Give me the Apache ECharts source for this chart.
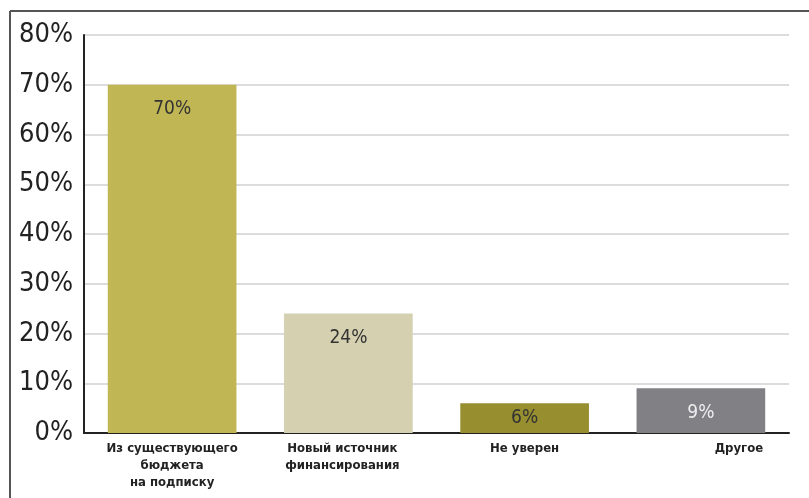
<!DOCTYPE html>
<html><head><meta charset="utf-8">
<script src="https://cdn.jsdelivr.net/npm/echarts@6/dist/echarts.min.js"></script>
<style>html,body{margin:0;padding:0;background:#fff}#c{width:809px;height:498px}</style>
</head><body><div id="c"></div>
<script>
const categories = ['Из существующего\nбюджета\nна подписку', 'Новый источник\nфинансирования', 'Не уверен', 'Другое'];
const values = [70, 24, 6, 9];
const barColors = ['#c0b754', '#d4d0b0', '#978e30', '#818185'];
const labelColors = ['#333333', '#333333', '#333333', '#eeeeee'];
const yTicks = [0, 10, 20, 30, 40, 50, 60, 70, 80];

const FONT = '"DejaVu Sans Condensed", sans-serif';
const chart = echarts.init(document.getElementById('c'), null, {renderer: 'canvas'});
const catData = categories.map((c, i) => {
  const item = {value: c};
  if (i === 3) item.textStyle = {padding: [0, 0, 0, 76]};
  if (i === 1) item.textStyle = {padding: [0, 12, 0, 0]};
  return item;
});
chart.setOption({
  animation: false,
  graphic: [
    {type: 'line', shape: {x1: 10, y1: 11, x2: 10, y2: 498}, style: {stroke: '#555', lineWidth: 2}},
    {type: 'line', shape: {x1: 10, y1: 11, x2: 809, y2: 11}, style: {stroke: '#555', lineWidth: 2}}
  ],
  grid: {left: 84, right: 20, top: 35, bottom: 65},
  xAxis: {
    type: 'category',
    data: catData,
    axisLine: {lineStyle: {color: '#222', width: 2}},
    axisTick: {inside: true, length: 8, lineStyle: {color: '#222', width: 1.5}},
    axisLabel: {fontFamily: FONT, fontWeight: 'bold', fontSize: 13, color: '#222', lineHeight: 17, margin: 7, interval: 0}
  },
  yAxis: {
    type: 'value', min: yTicks[0], max: yTicks[yTicks.length - 1], interval: 10,
    axisLine: {show: true, lineStyle: {color: '#222', width: 2}},
    axisTick: {show: false},
    axisLabel: {formatter: '{value}%', fontFamily: FONT, fontSize: 27, color: '#222', margin: 11},
    splitLine: {lineStyle: {color: '#d0d0d0', width: 1.5}}
  },
  series: [{
    type: 'bar',
    barCategoryGap: '27%',
    data: values.map((v, i) => {
      const d = {value: v, itemStyle: {color: barColors[i]}, label: {color: labelColors[i]}};
      if (i === 2) d.label.position = 'inside';
      return d;
    }),
    label: {
      show: true, position: 'insideTop', distance: 15,
      formatter: '{c}%', fontFamily: FONT, fontSize: 19, fontWeight: 'normal'
    }
  }]
});
</script></body></html>
